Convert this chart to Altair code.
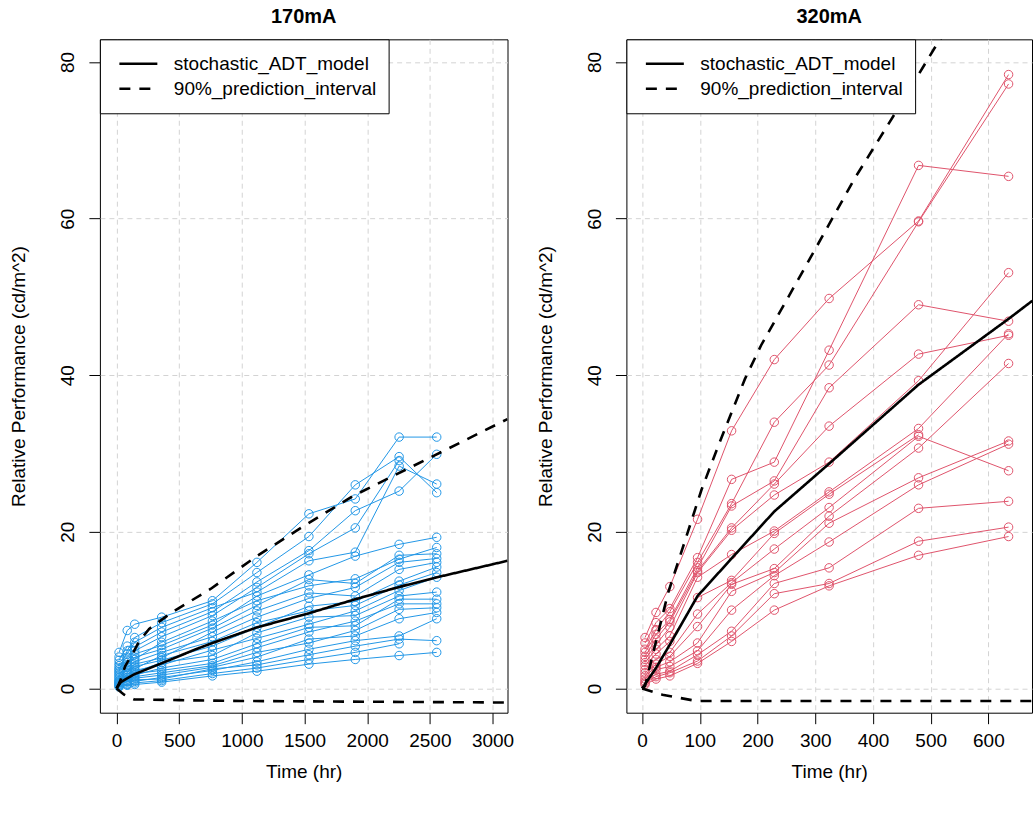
import altair as alt
import pandas as pd

FONT = "Liberation Sans"
BLUE = "#2297E6"
RED = "#DF536B"
SERIES = ["stochastic_ADT_model", "90%_prediction_interval"]

# ---------------- 170mA : measurement times and readings (index = unit) ----------------
L_TIME = [20, 85, 145, 360, 765, 1120, 1535, 1905, 2255, 2555]
L_C20 = [2.2, 4.6, 3.6, 4.0, 2.9, 3.2, 2.6, 2.4, 1.8, 2.0, 1.6, 1.4, 1.0, 1.2, 0.9, 0.8, 0.6, 0.7, 0.5, 0.4, 0.3, 0.2]
L_C85 = [4.8, 7.4, 5.4, 4.4, 4.0, 3.3, 3.6, 3.0, 2.7, 2.2, 2.4, 2.0, 1.8, 1.4, 1.6, 1.2, 1.0, 0.8, 0.9, 0.6, 0.5, 0.4]
L_C145 = [6.5, 8.2, 5.3, 5.9, 4.8, 4.4, 3.7, 4.0, 3.4, 3.1, 2.5, 2.8, 2.3, 2.1, 1.7, 1.9, 1.5, 1.3, 0.9, 1.1, 0.7, 0.5]
L_C360 = [8.4, 9.1, 7.2, 7.8, 6.6, 5.5, 5.9, 5.0, 4.6, 3.9, 4.2, 3.6, 3.0, 3.3, 2.6, 2.3, 2.0, 1.7, 1.4, 1.2, 1.0, 0.8]
L_C765 = [10.8, 11.2, 9.8, 10.3, 9.3, 8.1, 8.6, 7.7, 6.6, 7.2, 6.0, 5.4, 4.9, 4.2, 3.7, 3.2, 2.9, 2.7, 2.3, 2.5, 1.9, 1.6]
L_C1120 = [14.8, 16.1, 13.6, 12.3, 12.9, 11.8, 11.2, 10.6, 9.1, 9.9, 8.4, 7.8, 6.4, 7.1, 5.7, 5.2, 4.6, 4.0, 3.4, 3.0, 2.6, 2.2]
L_C1535 = [19.4, 22.3, 17.6, 16.3, 17.2, 14.5, 13.1, 13.9, 11.5, 12.2, 9.9, 10.5, 8.2, 9.1, 7.8, 7.2, 5.8, 6.3, 5.0, 4.3, 3.7, 3.1]
L_C1905 = [26.0, 24.2, 22.7, 17.4, 20.5, 16.9, 14.0, 13.4, 12.9, 11.8, 10.6, 11.1, 9.9, 9.3, 8.0, 8.6, 7.4, 6.7, 6.1, 5.4, 4.6, 3.7]
L_C2255 = [29.6, 32.1, 25.2, 28.4, 29.1, 18.4, 16.5, 17.0, 16.1, 15.2, 13.2, 13.7, 12.5, 11.8, 11.4, 10.8, 10.1, 8.9, 6.7, 6.3, 5.7, 4.2]
L_C2555 = [25.0, 32.1, 29.9, 26.1, None, 19.3, 18.0, 17.2, 16.6, 16.1, 14.8, 15.5, 14.2, 12.3, 11.4, 10.8, 10.3, 9.7, 8.9, 6.1, None, 4.6]
L_COLUMNS = [L_C20, L_C85, L_C145, L_C360, L_C765, L_C1120, L_C1535, L_C1905, L_C2255, L_C2555]

L_MODEL_T = [0, 34, 74, 140, 358, 632, 765, 1122, 1535, 1907, 2265, 2558, 3120]
L_MODEL_V = [0, 0.8, 1.2, 1.8, 3.2, 5.0, 5.8, 7.8, 9.6, 11.4, 13.0, 14.2, 16.3]
L_UPPER_T = [0, 30, 70, 130, 180, 260, 440, 750, 1120, 1500, 1890, 2190, 2530, 3120]
L_UPPER_V = [0, 1.0, 2.9, 4.5, 6.0, 7.6, 9.7, 12.7, 16.9, 20.8, 24.6, 27.0, 29.7, 34.4]
L_LOWER_T = [0, 60, 140, 500, 1000, 2000, 3120]
L_LOWER_V = [0, -0.8, -1.4, -1.5, -1.6, -1.7, -1.8]

# ---------------- 320mA ----------------
R_TIME = [5, 24, 48, 96, 155, 229, 324, 479, 635]
R_C5 = [6.5, 5.8, 5.0, 4.6, 4.1, 3.7, 3.3, 2.9, 2.4, 2.0, 1.6, 1.2, 0.9, 0.7, 0.5]
R_C24 = [9.7, 8.4, 7.5, 6.9, 6.3, 5.6, 5.0, 4.4, 3.7, 3.1, 2.7, 2.4, 1.8, 1.5, 1.2]
R_C48 = [13.0, 10.2, 9.8, 8.8, 8.5, 7.8, 6.7, 6.0, 4.6, 4.1, 3.4, 2.8, 2.2, 2.0, 1.6]
R_C96 = [21.6, 16.7, 16.1, 15.4, 15.0, 14.8, 14.2, 11.6, 9.5, 7.9, 5.8, 4.8, 4.3, 3.5, 3.2]
R_C155 = [32.9, 26.7, 23.6, 23.3, 20.5, 20.2, 17.1, 13.8, 13.5, 13.3, 12.4, 10.0, 7.3, 6.7, 6.0]
R_C229 = [42.0, 28.9, 34.0, 26.5, 26.1, 24.7, 20.1, 19.8, 17.8, 15.3, 14.8, 14.4, 13.4, 12.1, 10.0]
R_C324 = [49.8, 43.2, 41.3, 38.4, 33.5, 28.9, 25.1, 24.8, 23.1, 22.0, 21.1, 18.7, 15.4, 13.4, 13.1]
R_C479 = [59.7, 66.8, 59.6, 49.0, 42.7, 39.3, 33.2, 32.4, 32.2, 30.7, 26.9, 26.0, 23.0, 18.8, 17.0]
R_C635 = [78.4, 65.4, 77.2, 46.9, 45.1, 53.1, 45.3, None, 27.8, 41.5, 31.6, 31.2, 23.9, 20.6, 19.4]
R_COLUMNS = [R_C5, R_C24, R_C48, R_C96, R_C155, R_C229, R_C324, R_C479, R_C635]

R_MODEL_T = [0, 24, 48, 96, 155, 229, 324, 479, 635, 676]
R_MODEL_V = [0, 2.6, 5.6, 11.8, 16.6, 22.6, 28.7, 38.8, 47.2, 49.5]
R_UPPER_T = [0, 5, 22, 45, 103, 132, 178, 206, 287, 368, 443, 506, 540]
R_UPPER_V = [0, 0.3, 5.4, 12.2, 25.4, 31.0, 39.5, 43.8, 54.4, 65.1, 74.0, 81.7, 85.5]
R_LOWER_T = [0, 35, 86, 100, 676]
R_LOWER_V = [0, -0.8, -1.5, -1.6, -1.6]

Y_TICKS = [0, 20, 40, 60, 80]
Y_DOMAIN = [-3.1, 82.9]


def unit_frame(times, cols):
    rows = []
    for j, t in enumerate(times):
        for i, v in enumerate(cols[j]):
            if v is not None:
                rows.append({"unit": i, "t": t, "v": v})
    return pd.DataFrame(rows)


def model_frame(mt, mv, ut, uv, lt, lv):
    rows = []
    for t, v in zip(mt, mv):
        rows.append({"series": SERIES[0], "part": "mean", "t": t, "v": v})
    for t, v in zip(ut, uv):
        rows.append({"series": SERIES[1], "part": "upper", "t": t, "v": v})
    for t, v in zip(lt, lv):
        rows.append({"series": SERIES[1], "part": "lower", "t": t, "v": v})
    return pd.DataFrame(rows)


def panel(title, df, mdf, color, xdomain, xticks, width):
    x = alt.X("t:Q", scale=alt.Scale(domain=xdomain, nice=False, zero=False),
              axis=alt.Axis(values=xticks, title="Time (hr)", format="d", labelFlush=False))
    y = alt.Y("v:Q", scale=alt.Scale(domain=Y_DOMAIN, nice=False, zero=False),
              axis=alt.Axis(values=Y_TICKS, title="Relative Performance (cd/m^2)",
                            format="d", labelAngle=270, labelAlign="center",
                            labelBaseline="bottom", labelFlush=False))
    lines = alt.Chart(df).mark_line(color=color, strokeWidth=1, clip=True).encode(
        x=x, y=y, detail="unit:N", order="t:Q")
    pts = alt.Chart(df).mark_point(shape="circle", filled=False, size=72, strokeWidth=1,
                                   color=color, opacity=1, clip=True).encode(x=x, y=y)
    model = alt.Chart(mdf).mark_line(color="black", strokeWidth=2.6, clip=True,
                                     strokeCap="butt").encode(
        x=x, y=y, detail="part:N", order="t:Q",
        strokeDash=alt.StrokeDash(
            "series:N",
            scale=alt.Scale(domain=SERIES, range=[[1, 0], [11, 9]]),
            legend=alt.Legend(title=None, orient="top-left", offset=0,
                              fillColor="white", strokeColor="black", padding=12,
                              symbolType="stroke", symbolSize=1444,
                              symbolStrokeWidth=2.6, symbolStrokeColor="black",
                              symbolOffset=6, labelOffset=15, labelFontSize=19,
                              labelFont=FONT, labelColor="black", clipHeight=25,
                              rowPadding=0, labelLimit=400)))
    return alt.layer(lines, pts, model).properties(
        width=width, height=674, title=alt.TitleParams(title))


left = panel("170mA", unit_frame(L_TIME, L_COLUMNS),
             model_frame(L_MODEL_T, L_MODEL_V, L_UPPER_T, L_UPPER_V, L_LOWER_T, L_LOWER_V),
             BLUE, [-133, 3120], [0, 500, 1000, 1500, 2000, 2500, 3000], 408)
right = panel("320mA", unit_frame(R_TIME, R_COLUMNS),
              model_frame(R_MODEL_T, R_MODEL_V, R_UPPER_T, R_UPPER_V, R_LOWER_T, R_LOWER_V),
              RED, [-27.3, 675.6], [0, 100, 200, 300, 400, 500, 600], 406)

chart = alt.hconcat(left, right, spacing=21).resolve_scale(
    x="independent", y="independent", strokeDash="independent"
).properties(
    padding={"left": 9, "top": 6, "right": 0, "bottom": 0}
).configure_view(
    stroke="black", strokeWidth=1
).configure_axis(
    labelFont=FONT, titleFont=FONT, labelFontSize=19, titleFontSize=19,
    titleFontWeight="normal", labelColor="black", titleColor="black",
    tickColor="black", tickSize=11, tickWidth=1, domain=False,
    grid=True, gridColor="#D3D3D3", gridDash=[5, 4], gridWidth=1
).configure_axisLeft(
    labelPadding=11, titlePadding=30
).configure_axisBottom(
    labelPadding=8, titlePadding=12
).configure_title(
    font=FONT, fontSize=20, fontWeight="bold", color="black", offset=12, anchor="middle"
)

chart.save("out.html", embed_options={"renderer": "svg", "actions": False})
